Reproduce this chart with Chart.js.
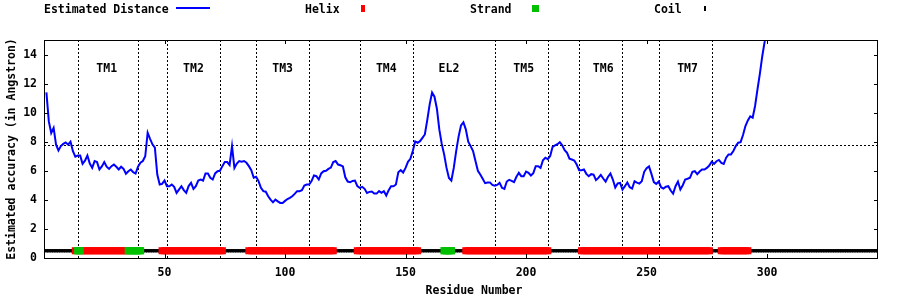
<!DOCTYPE html>
<html>
<head>
<meta charset="utf-8">
<title>Estimated Distance</title>
<script src="https://cdn.jsdelivr.net/npm/chart.js@4.4.1/dist/chart.umd.min.js"></script>
<style>
    body { margin: 0; background: #fff; }
    #grafico { display: block; }
</style>
</head>
<body>
<canvas id="grafico" width="900" height="300"></canvas>
<script>
// estimated distance per residue, starting at residue 1
const distancia = [
    11.4, 9.4, 8.6, 8.95, 7.8, 7.4, 7.7, 7.85, 7.95, 7.8,
    8.0, 7.35, 6.97, 7.05, 7.05, 6.48, 6.7, 7.05, 6.5, 6.2,
    6.67, 6.6, 6.09, 6.3, 6.6, 6.28, 6.13, 6.32, 6.43, 6.28,
    6.09, 6.28, 6.13, 5.8, 5.97, 6.09, 5.9, 5.81, 6.28, 6.55,
    6.67, 7.0, 8.62, 8.2, 7.82, 7.6, 5.74, 5.06, 5.1, 5.33,
    4.94, 4.94, 5.06, 4.9, 4.48, 4.71, 4.94, 4.67, 4.48, 4.95,
    5.17, 4.75, 4.94, 5.33, 5.4, 5.33, 5.82, 5.82, 5.52, 5.4,
    5.82, 5.97, 6.0, 6.32, 6.6, 6.6, 6.4, 7.7, 6.2, 6.5,
    6.67, 6.63, 6.67, 6.55, 6.32, 6.04, 5.52, 5.59, 5.29, 4.83,
    4.6, 4.56, 4.25, 4.02, 3.83, 4.02, 3.9, 3.79, 3.79, 3.93,
    4.06, 4.14, 4.25, 4.41, 4.6, 4.6, 4.67, 4.99, 5.06, 5.06,
    5.29, 5.68, 5.63, 5.4, 5.82, 5.97, 6.0, 6.13, 6.22, 6.6,
    6.67, 6.43, 6.38, 6.3, 5.55, 5.26, 5.21, 5.3, 5.33, 4.94,
    4.83, 4.9, 4.76, 4.48, 4.55, 4.57, 4.43, 4.43, 4.6, 4.48,
    4.6, 4.3, 4.67, 4.94, 4.94, 5.06, 5.9, 6.04, 5.88, 6.2,
    6.62, 6.82, 7.36, 8.02, 7.93, 8.04, 8.27, 8.5, 9.49, 10.57,
    11.38, 11.1, 10.27, 8.85, 7.86, 7.13, 6.2, 5.51, 5.33, 6.2,
    7.36, 8.35, 9.12, 9.33, 8.85, 8.0, 7.7, 7.36, 6.67, 6.0,
    5.74, 5.45, 5.15, 5.2, 5.2, 5.03, 4.97, 5.03, 5.17, 4.83,
    4.76, 5.26, 5.38, 5.31, 5.22, 5.59, 5.86, 5.63, 5.63, 5.95,
    5.86, 5.68, 5.84, 6.32, 6.32, 6.2, 6.73, 6.9, 6.8, 7.01,
    7.65, 7.75, 7.83, 7.97, 7.75, 7.42, 7.24, 6.83, 6.78, 6.71,
    6.43, 6.04, 6.04, 6.09, 5.79, 5.63, 5.77, 5.74, 5.36, 5.51,
    5.72, 5.47, 5.26, 5.59, 5.81, 5.4, 4.85, 5.13, 5.17, 4.71,
    4.94, 5.2, 4.87, 4.78, 5.28, 5.19, 5.12, 5.28, 5.93, 6.18,
    6.3, 5.79, 5.22, 5.1, 5.26, 4.87, 4.78, 4.9, 4.94, 4.64,
    4.43, 4.94, 5.26, 4.71, 5.01, 5.4, 5.45, 5.52, 5.93, 5.97,
    5.77, 5.95, 6.09, 6.09, 6.2, 6.36, 6.62, 6.48, 6.66, 6.75,
    6.55, 6.48, 6.9, 7.13, 7.13, 7.36, 7.7, 7.93, 7.97, 8.46,
    9.08, 9.47, 9.74, 9.65, 10.46, 11.6, 12.69, 13.9, 14.9, 16.5
];

// secondary structure, residue ranges (inclusive)
const helixRanges = [[13, 13], [16, 34], [49, 74], [85, 120], [130, 155], [175, 209], [223, 276], [281, 292]];
const strandRanges = [[14, 15], [35, 40], [166, 169]];
const coilRanges = [[1, 12], [41, 48], [75, 84], [121, 129], [156, 165], [170, 174], [210, 222], [277, 280], [293, 346]];
const nivelEstrutura = 0.5;

// region borders and names
const bordasTM = [14, 39, 51, 73, 88, 110, 131, 153, 187, 209, 222, 240, 255, 277];
const nomesTM = ['TM1', 'TM2', 'TM3', 'TM4', 'EL2', 'TM5', 'TM6', 'TM7'];
const centrosTM = [26, 62, 99, 142, 168, 199, 232, 267];
const nivelNomes = 13;
const limiteCorte = 7.8;

const ticksX = [50, 100, 150, 200, 250, 300];
const ticksY = [0, 2, 4, 6, 8, 10, 12, 14];

const FAMILIA = '"DejaVu Sans Mono", monospace';
const FONTE = 'bold 11.5px ' + FAMILIA;

function pontosDistancia() {
    return distancia.map(function (v, i) {
        return { x: i + 1, y: v };
    });
}

function pontosEstrutura(faixas) {
    let pontos = [];
    for (let i = 0; i < faixas.length; i++) {
        for (let r = faixas[i][0]; r <= faixas[i][1]; r++) {
            pontos.push({ x: r, y: nivelEstrutura });
        }
    }
    return pontos;
}

const desenhoExtra = {
    id: 'desenhoExtra',
    beforeDatasetsDraw(chart) {
        const ctx = chart.ctx;
        const a = chart.chartArea;
        const x = chart.scales.x;
        const y = chart.scales.y;

        ctx.save();
        ctx.strokeStyle = '#000';
        ctx.lineWidth = 1;
        ctx.setLineDash([2, 2]);
        ctx.beginPath();
        bordasTM.forEach(function (b) {
            const px = Math.round(x.getPixelForValue(b)) + 0.5;
            ctx.moveTo(px, a.top);
            ctx.lineTo(px, a.bottom);
        });
        const py = Math.round(y.getPixelForValue(limiteCorte)) + 0.5;
        ctx.moveTo(a.left, py);
        ctx.lineTo(a.right, py);
        ctx.stroke();
        ctx.setLineDash([]);

        ctx.font = FONTE;
        ctx.fillStyle = '#000';
        ctx.textAlign = 'center';
        ctx.textBaseline = 'middle';
        nomesTM.forEach(function (n, i) {
            ctx.fillText(n, x.getPixelForValue(centrosTM[i]), y.getPixelForValue(nivelNomes));
        });
        ctx.restore();
    },
    afterDraw(chart) {
        const ctx = chart.ctx;
        const a = chart.chartArea;
        const x = chart.scales.x;
        const y = chart.scales.y;

        ctx.save();
        // border box with inward ticks on all sides
        ctx.strokeStyle = '#000';
        ctx.lineWidth = 1;
        ctx.strokeRect(a.left + 0.5, a.top + 0.5, a.right - a.left - 1, a.bottom - a.top);
        ctx.beginPath();
        ticksX.forEach(function (t) {
            const px = Math.round(x.getPixelForValue(t)) + 0.5;
            ctx.moveTo(px, a.bottom);
            ctx.lineTo(px, a.bottom - 4);
            ctx.moveTo(px, a.top);
            ctx.lineTo(px, a.top + 4);
        });
        ticksY.forEach(function (t) {
            const py = Math.round(y.getPixelForValue(t)) + 0.5;
            ctx.moveTo(a.left, py);
            ctx.lineTo(a.left + 4, py);
            ctx.moveTo(a.right, py);
            ctx.lineTo(a.right - 4, py);
        });
        ctx.stroke();

        // legend (gnuplot style, top row)
        const ds = chart.data.datasets;
        ctx.font = FONTE;
        ctx.fillStyle = '#000';
        ctx.textAlign = 'left';
        ctx.textBaseline = 'alphabetic';
        ctx.fillText(ds[0].label, 44, 13);
        ctx.fillText(ds[2].label, 305, 13);
        ctx.fillText(ds[1].label, 470, 13);
        ctx.fillText(ds[3].label, 654, 13);
        ctx.fillStyle = ds[0].borderColor;
        ctx.fillRect(176, 7, 34, 2);
        ctx.fillStyle = ds[2].pointBackgroundColor;
        ctx.fillRect(361, 5, 4, 7);
        ctx.fillStyle = ds[1].pointBackgroundColor;
        ctx.fillRect(532, 5, 7, 7);
        ctx.fillStyle = ds[3].pointBackgroundColor;
        ctx.fillRect(704, 6, 2, 5);

        // x axis title
        ctx.fillStyle = '#000';
        ctx.textAlign = 'center';
        ctx.textBaseline = 'middle';
        ctx.fillText('Residue Number', 474, 291);
        ctx.restore();
    }
};

const ctx1 = document.getElementById('grafico');

new Chart(ctx1, {
    type: 'scatter',
    data: {
        datasets: [
            {
                label: 'Estimated Distance',
                data: pontosDistancia(),
                showLine: true,
                borderColor: '#0000ff',
                borderWidth: 2,
                pointRadius: 0,
                tension: 0,
                clip: 0
            },
            {
                label: 'Strand',
                data: pontosEstrutura(strandRanges),
                pointStyle: 'rect',
                pointRadius: 5.2,
                pointBorderWidth: 0,
                pointBackgroundColor: '#00c000',
                clip: 0
            },
            {
                label: 'Helix',
                data: pontosEstrutura(helixRanges),
                pointStyle: 'rect',
                pointRadius: 5,
                pointBorderWidth: 0,
                pointBackgroundColor: '#ff0000',
                clip: 0
            },
            {
                label: 'Coil',
                data: pontosEstrutura(coilRanges),
                pointStyle: 'rect',
                pointRadius: 2.4,
                pointBorderWidth: 0,
                pointBackgroundColor: '#000000',
                clip: 0
            }
        ]
    },
    options: {
        responsive: false,
        animation: false,
        events: [],
        layout: {
            padding: { top: 40, right: 22, left: 0, bottom: 0 }
        },
        plugins: {
            legend: { display: false },
            tooltip: { enabled: false }
        },
        scales: {
            x: {
                type: 'linear',
                min: 0,
                max: 346,
                afterBuildTicks: function (scale) {
                    scale.ticks = ticksX.map(function (v) { return { value: v }; });
                },
                afterFit: function (scale) {
                    scale.height = 42;
                },
                grid: { display: false, drawTicks: false },
                border: { display: false },
                ticks: {
                    color: '#000',
                    padding: 8,
                    maxRotation: 0,
                    autoSkip: false,
                    font: { family: FAMILIA, size: 11.5, weight: 'bold' }
                },
                title: { display: false }
            },
            y: {
                min: 0,
                max: 15,
                afterBuildTicks: function (scale) {
                    scale.ticks = ticksY.map(function (v) { return { value: v }; });
                },
                afterFit: function (scale) {
                    scale.width = 44;
                },
                grid: { display: false, drawTicks: false },
                border: { display: false },
                ticks: {
                    color: '#000',
                    padding: 7,
                    autoSkip: false,
                    font: { family: FAMILIA, size: 11.5, weight: 'bold' }
                },
                title: {
                    display: true,
                    text: 'Estimated accuracy (in Angstron)',
                    color: '#000',
                    padding: { top: 5, bottom: 0 },
                    font: { family: FAMILIA, size: 11.5, weight: 'bold' }
                }
            }
        }
    },
    plugins: [desenhoExtra]
});
</script>
</body>
</html>
